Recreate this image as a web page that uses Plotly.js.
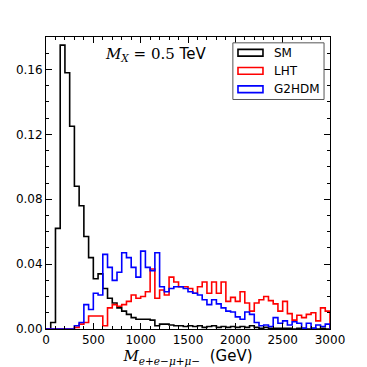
<!DOCTYPE html>
<html>
<head>
<meta charset="utf-8">
<script src="https://cdn.plot.ly/plotly-3.0.1.min.js"></script>
<style>html,body{margin:0;padding:0;background:#fff;}#chart{width:367px;height:367px;}</style>
</head>
<body>
<div id="chart"></div>
<script>
// Histogram binning (GeV)
const binStart = 0;
const binWidth = 50;

// Normalized distributions per bin (60 bins, 0-3000 GeV)
const sm = [0, 0.004, 0.062, 0.175, 0.158, 0.125, 0.088, 0.076, 0.057, 0.044,
  0.031, 0.034, 0.025, 0.019, 0.016, 0.013, 0.011, 0.009, 0.007, 0.006,
  0.006, 0.006, 0.0055, 0.002, 0.003, 0.003, 0.0025, 0.002, 0.002, 0.0015,
  0.002, 0.0015, 0.002, 0.001, 0.0015, 0.002, 0.001, 0.0015, 0.001, 0.0015,
  0.001, 0.0015, 0.001, 0.002, 0.001, 0.0005, 0.001, 0.0005, 0.0005, 0.0005,
  0.0005, 0.0005, 0, 0.0005, 0.0005, 0, 0.0005, 0, 0.0005, 0];

const lht = [0, 0, 0, 0, 0, 0, 0.001, 0.003, 0.004, 0.008,
  0.008, 0.008, 0.002, 0.013, 0.015, 0.014, 0.015, 0.017, 0.021, 0.019,
  0.020, 0.023, 0.037, 0.019, 0.024, 0.021, 0.032, 0.029, 0.026, 0.026,
  0.025, 0.022, 0.026, 0.029, 0.022, 0.029, 0.022, 0.029, 0.017, 0.0195,
  0.017, 0.023, 0.016, 0.011, 0.016, 0.018, 0.020, 0.0175, 0.0155, 0.011,
  0.017, 0.0095, 0.0055, 0.0085, 0.007, 0.009, 0.010, 0.005, 0.013, 0.011];

const g2hdm = [0, 0, 0, 0, 0, 0, 0.002, 0.004, 0.015, 0.012,
  0.022, 0.021, 0.046, 0.038, 0.030, 0.035, 0.047, 0.044, 0.038, 0.032,
  0.048, 0.038, 0.036, 0.047, 0.026, 0.023, 0.025, 0.026, 0.026, 0.025,
  0.023, 0.022, 0.021, 0.018, 0.015, 0.018, 0.0155, 0.013, 0.011, 0.0105,
  0.0075, 0.006, 0.0105, 0.009, 0.004, 0.002, 0.0025, 0.0015, 0.007, 0.0035,
  0.005, 0.0025, 0.0045, 0.0035, 0.0005, 0.0035, 0.0005, 0.0025, 0.0015, 0.003];

const seriesNames = ["SM", "LHT", "G2HDM"];
const seriesColors = ["#000000", "#ff0000", "#0000ff"];
const seriesData = [sm, lht, g2hdm];

function stepTrace(vals, color, name) {
  const x = [binStart], y = [0];
  for (let i = 0; i < vals.length; i++) {
    const lo = binStart + i * binWidth, hi = lo + binWidth;
    x.push(lo, hi); y.push(vals[i], vals[i]);
  }
  x.push(binStart + vals.length * binWidth); y.push(0);
  return {type: "scatter", mode: "lines", x: x, y: y, name: name,
    line: {color: color, width: 1.6}, showlegend: false, hoverinfo: "skip"};
}

const traces = seriesData.map((d, i) => stepTrace(d, seriesColors[i], seriesNames[i]));

// legend drawn as outlined patches
const shapes = [{type: "rect", xref: "paper", yref: "paper", x0: 0.658, x1: 0.979, y0: 0.786, y1: 0.98,
  line: {color: "#555", width: 1}, fillcolor: "rgba(255,255,255,0.9)", layer: "above"}];
const annotations = [];
const rowY = [0.946, 0.884, 0.821];
seriesNames.forEach((n, i) => {
  shapes.push({type: "rect", xref: "paper", yref: "paper", x0: 0.676, x1: 0.764,
    y0: rowY[i] - 0.0115, y1: rowY[i] + 0.0115, line: {color: seriesColors[i], width: 1.6},
    fillcolor: "rgba(0,0,0,0)", layer: "above"});
  annotations.push({xref: "paper", yref: "paper", x: 0.796, y: rowY[i], xanchor: "left", yanchor: "middle",
    text: n, showarrow: false, font: {family: "DejaVu Sans", size: 12, color: "#000"}});
});
annotations.push({xref: "paper", yref: "paper", x: 0.2, y: 0.94, xanchor: "left", yanchor: "middle",
  showarrow: false,
  text: "<span style='font-family:DejaVu Serif'><i>M</i><sub><i>X</i></sub> = 0.5</span> TeV",
  font: {family: "DejaVu Sans", size: 15, color: "#000"}});

const axisCommon = {showline: true, linecolor: "#000", linewidth: 1, mirror: "allticks",
  ticks: "inside", ticklen: 6, tickwidth: 1, tickcolor: "#000", showgrid: false, zeroline: false,
  tickfont: {family: "DejaVu Sans", size: 12, color: "#000"}};

const layout = {
  width: 367, height: 367,
  margin: {l: 46, r: 37, t: 37, b: 38},
  paper_bgcolor: "#fff", plot_bgcolor: "#fff",
  xaxis: Object.assign({}, axisCommon, {range: [0, 3000], dtick: 500, tick0: 0,
    minor: {dtick: 100, ticks: "inside", ticklen: 3, tickcolor: "#000", tickwidth: 1},
    title: {text: "<span style='font-family:DejaVu Serif'><i>M</i><sub><i>e+e−μ+μ−</i></sub></span>  (GeV)",
      font: {family: "DejaVu Sans", size: 15, color: "#000"}, standoff: 4}}),
  yaxis: Object.assign({}, axisCommon, {range: [0, 0.18], dtick: 0.04, tick0: 0, tickformat: ".2f",
    minor: {dtick: 0.01, ticks: "inside", ticklen: 3, tickcolor: "#000", tickwidth: 1}}),
  shapes: shapes,
  annotations: annotations
};

Plotly.newPlot("chart", traces, layout, {staticPlot: true, displayModeBar: false});
</script>
</body>
</html>
